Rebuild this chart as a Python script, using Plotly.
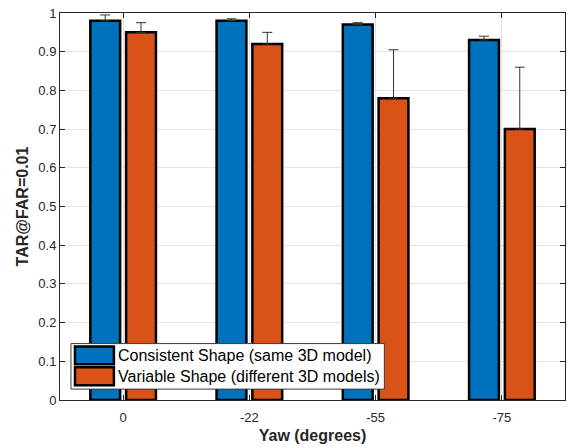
import plotly.graph_objects as go

# Yaw angles and recognition rates (TAR at FAR = 0.01)
yaw_labels = ["0", "-22", "-55", "-75"]
consistent_tar = [0.98, 0.98, 0.97, 0.93]
consistent_err = [0.015, 0.005, 0.005, 0.01]
variable_tar = [0.95, 0.92, 0.78, 0.70]
variable_err = [0.025, 0.03, 0.125, 0.16]
y_ticks = [0, 0.1, 0.2, 0.3, 0.4, 0.5, 0.6, 0.7, 0.8, 0.9, 1]

series_names = ["Consistent Shape (same 3D model)", "Variable Shape (different 3D models)"]
series_colors = ["#0072BD", "#D95319"]

FONT = "Liberation Sans, Arial, Helvetica, sans-serif"
AXIS_COLOR = "#262626"

fig = go.Figure()
for name, vals, errs, color in zip(series_names,
                                   [consistent_tar, variable_tar],
                                   [consistent_err, variable_err],
                                   series_colors):
    fig.add_trace(go.Bar(
        x=yaw_labels, y=vals, name=name,
        marker=dict(color=color, line=dict(color="black", width=2.5)),
        error_y=dict(type="data", array=errs, arrayminus=[0] * len(errs),
                     symmetric=False, color="#333333", thickness=1, width=5),
        showlegend=False,
    ))

# Plot-area geometry in pixels (used for the boxed legend placement)
W, H = 572, 448
ML, MR, MT, MB = 60, 6, 10, 47
pw, ph = W - ML - MR, H - MT - MB


def px(x):
    return (x - ML) / pw


def py(y):
    return (H - MB - y) / ph


# Legend drawn as a framed box with wide colour swatches
shapes = [dict(type="rect", xref="paper", yref="paper",
               x0=px(71), x1=px(385), y0=py(390), y1=py(344),
               fillcolor="white", line=dict(color="#3a3a3a", width=1), layer="above")]
rows = [(347, 365), (368, 386)]
annotations = []
for (top, bot), name, color in zip(rows, series_names, series_colors):
    shapes.append(dict(type="rect", xref="paper", yref="paper",
                       x0=px(75), x1=px(114), y0=py(bot), y1=py(top),
                       fillcolor=color, line=dict(color="black", width=2.5), layer="above"))
    annotations.append(dict(xref="paper", yref="paper", x=px(116), y=py((top + bot) / 2),
                            text=name, showarrow=False, xanchor="left", yanchor="middle",
                            font=dict(family=FONT, size=16, color="black")))

fig.update_layout(
    width=W, height=H,
    margin=dict(l=ML, r=MR, t=MT, b=MB),
    paper_bgcolor="white", plot_bgcolor="white",
    barmode="group", bargap=0.433, bargroupgap=0.167,
    font=dict(family=FONT, size=13, color=AXIS_COLOR),
    shapes=shapes, annotations=annotations,
)
fig.update_xaxes(
    range=[-0.5, 3.5], showgrid=True, gridcolor="#e3e3e3", gridwidth=1,
    showline=True, mirror="ticks", linecolor=AXIS_COLOR, linewidth=1,
    ticks="inside", ticklen=5, tickcolor=AXIS_COLOR, ticklabelstandoff=5,
    tickfont=dict(family=FONT, size=13, color=AXIS_COLOR),
    title=dict(text="<b>Yaw (degrees)</b>", standoff=6,
               font=dict(family=FONT, size=16, color=AXIS_COLOR)),
)
fig.update_yaxes(
    range=[0, 1], tickvals=y_ticks, showgrid=True, gridcolor="#e3e3e3", gridwidth=1,
    zeroline=False, showline=True, mirror="ticks", linecolor=AXIS_COLOR, linewidth=1,
    ticks="inside", ticklen=5, tickcolor=AXIS_COLOR,
    tickfont=dict(family=FONT, size=13, color=AXIS_COLOR),
    title=dict(text="<b>TAR@FAR=0.01</b>", standoff=5,
               font=dict(family=FONT, size=16, color=AXIS_COLOR)),
)

fig.write_html("out.html")
